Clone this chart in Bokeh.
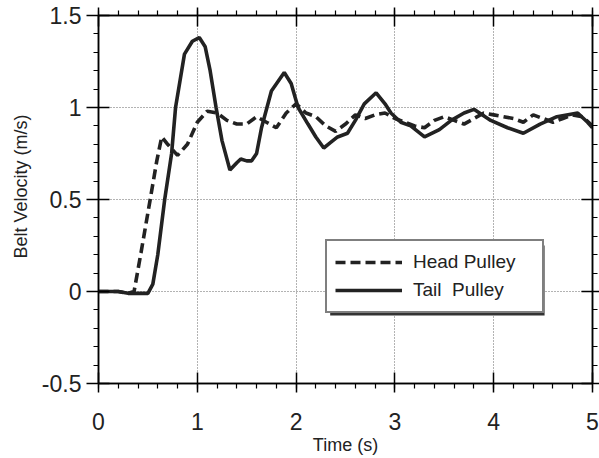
from bokeh.plotting import figure
from bokeh.models import Range1d, SingleIntervalTicker, LinearAxis, Legend, LegendItem, BoxAnnotation, Title
from bokeh.embed import file_html
from bokeh.resources import INLINE

# ---- data ----
head_t = [0, 0.2, 0.3, 0.36, 0.43, 0.52, 0.59, 0.64, 0.70, 0.80, 0.90, 1.00, 1.10, 1.20,
          1.30, 1.40, 1.50, 1.60, 1.70, 1.80, 1.90, 2.00, 2.10, 2.20, 2.30, 2.40, 2.50,
          2.60, 2.70, 2.80, 2.90, 3.00, 3.10, 3.20, 3.30, 3.40, 3.50, 3.60, 3.70, 3.80,
          3.90, 4.00, 4.10, 4.20, 4.30, 4.40, 4.50, 4.60, 4.70, 4.80, 4.90, 5.00]
head_v = [0, 0, -0.01, 0, 0.21, 0.49, 0.71, 0.84, 0.80, 0.74, 0.80, 0.92, 0.98, 0.97,
          0.93, 0.91, 0.91, 0.95, 0.92, 0.89, 0.97, 1.02, 0.97, 0.95, 0.90, 0.87, 0.91,
          0.96, 0.94, 0.96, 0.97, 0.94, 0.92, 0.90, 0.89, 0.93, 0.95, 0.93, 0.91, 0.94,
          0.97, 0.96, 0.95, 0.94, 0.92, 0.96, 0.94, 0.92, 0.94, 0.96, 0.95, 0.90]

tail_t = [0, 0.2, 0.3, 0.4, 0.5, 0.55, 0.6, 0.67, 0.74, 0.78, 0.87, 0.95, 1.02, 1.08,
          1.13, 1.19, 1.25, 1.33, 1.40, 1.44, 1.50, 1.55, 1.60, 1.65, 1.75, 1.88, 1.95,
          2.02, 2.12, 2.20, 2.28, 2.35, 2.42, 2.52, 2.60, 2.69, 2.81, 2.90, 2.96, 3.06,
          3.16, 3.30, 3.45, 3.57, 3.70, 3.80, 3.97, 4.14, 4.30, 4.47, 4.64, 4.85, 4.95, 5.00]
tail_v = [0, 0, -0.01, -0.01, -0.01, 0.04, 0.20, 0.50, 0.75, 1.00, 1.29, 1.36, 1.38, 1.33,
          1.20, 1.00, 0.82, 0.66, 0.70, 0.72, 0.71, 0.71, 0.75, 0.89, 1.09, 1.19, 1.13,
          1.00, 0.91, 0.84, 0.78, 0.81, 0.84, 0.86, 0.93, 1.02, 1.08, 1.02, 0.97, 0.92,
          0.90, 0.84, 0.88, 0.93, 0.97, 0.99, 0.93, 0.89, 0.86, 0.91, 0.95, 0.97, 0.92, 0.89]

x_ticks = [0, 1, 2, 3, 4, 5]
x_tick_labels = ["0", "1", "2", "3", "4", "5"]
y_ticks = [-0.5, 0.0, 0.5, 1.0, 1.5]
y_tick_labels = ["-0.5", "0", "0.5", "1", "1.5"]
series_names = ["Head Pulley", "Tail  Pulley"]
x_title = "Time (s)"
y_title = "Belt Velocity (m/s)"

FONT = "Liberation Sans"
INK = "#222222"

p = figure(width=599, height=458, output_backend="svg", toolbar_location=None,
           x_range=Range1d(0, 5), y_range=Range1d(-0.5, 1.5),
           min_border_left=97, min_border_right=7, min_border_top=15, min_border_bottom=75)
p.background_fill_color = "white"
p.border_fill_color = "white"
p.outline_line_color = "black"
p.outline_line_width = 1.5

xt = SingleIntervalTicker(interval=1, num_minor_ticks=5)
yt = SingleIntervalTicker(interval=0.5, num_minor_ticks=5)

def style_axis(ax, ticker, overrides, show_labels):
    ax.ticker = ticker
    ax.axis_line_color = "black"
    ax.axis_line_width = 1.5
    ax.major_tick_line_color = "black"
    ax.major_tick_line_width = 1.5
    ax.minor_tick_line_color = "black"
    ax.minor_tick_line_width = 1.2
    ax.major_tick_in = 11
    ax.major_tick_out = 9
    ax.minor_tick_in = 0
    ax.minor_tick_out = 5
    ax.major_label_overrides = overrides
    if show_labels:
        ax.major_label_text_font = FONT
        ax.major_label_text_font_size = "23px"
        ax.major_label_text_color = INK
    else:
        ax.major_label_text_font_size = "1px"
        ax.major_label_text_color = None
        ax.major_label_standoff = 0

xo = dict(zip(x_ticks, x_tick_labels))
yo = dict(zip(y_ticks, y_tick_labels))

style_axis(p.xaxis[0], xt, xo, True)
style_axis(p.yaxis[0], yt, yo, True)
p.xaxis[0].major_label_standoff = 20
p.yaxis[0].major_tick_out = 12
p.yaxis[0].major_label_standoff = 5

p.xaxis[0].axis_label = x_title
p.xaxis[0].axis_label_text_font = FONT
p.xaxis[0].axis_label_text_font_size = "18px"
p.xaxis[0].axis_label_text_font_style = "normal"
p.xaxis[0].axis_label_text_color = INK
p.xaxis[0].axis_label_standoff = 2

# vertical title on the left, placed a little above centre like the original
p.add_layout(Title(text=y_title, align="left", offset=125, standoff=16,
                   text_font=FONT, text_font_size="18px", text_font_style="normal",
                   text_color=INK), "left")

ra = LinearAxis()
style_axis(ra, yt, yo, False)
ra.major_tick_out = 7
p.add_layout(ra, "right")
ta = LinearAxis()
style_axis(ta, xt, xo, False)
ta.major_tick_out = 8
p.add_layout(ta, "above")

for g, tk in ((p.xgrid[0], xt), (p.ygrid[0], yt)):
    g.ticker = tk
    g.grid_line_color = "#666666"
    g.grid_line_dash = "1 2"
    g.grid_line_width = 1

r_head = p.line(head_t, head_v, line_color=INK, line_width=3.6, line_dash="10 5")
r_tail = p.line(tail_t, tail_v, line_color=INK, line_width=3.6)

# legend drop shadow (decoration)
shadow = BoxAnnotation(left=2.345, right=4.515, top=0.25, bottom=-0.131,
                       fill_color="#333333", fill_alpha=1, line_color=None)
p.add_layout(shadow)

legend = Legend(items=[LegendItem(label=series_names[0], renderers=[r_head]),
                       LegendItem(label=series_names[1], renderers=[r_tail])],
                location=(227, 70), orientation="vertical",
                glyph_width=67, glyph_height=26, label_height=26, label_standoff=11,
                label_width=121, padding=8, spacing=2, margin=0,
                label_text_font=FONT, label_text_font_size="19px", label_text_color=INK,
                border_line_color="black", border_line_width=2,
                background_fill_color="white", background_fill_alpha=1)
p.add_layout(legend)

open("out.html", "w").write(file_html(p, INLINE))
